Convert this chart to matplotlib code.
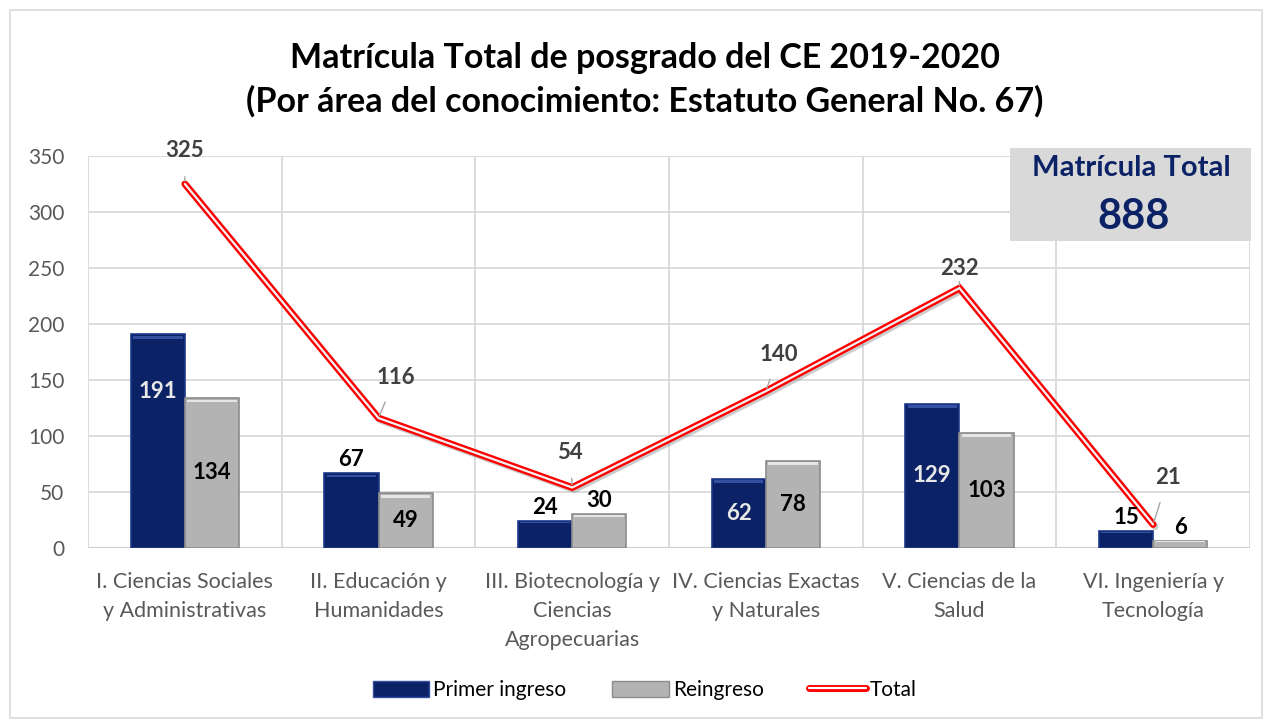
import matplotlib.pyplot as plt
import matplotlib.patheffects as pe
from matplotlib.patches import Rectangle, Patch
from matplotlib.lines import Line2D
import numpy as np

plt.rcParams['font.family'] = ['Lato', 'DejaVu Sans']

categories = ["I. Ciencias Sociales\ny Administrativas", "II. Educación y\nHumanidades",
              "III. Biotecnología y\nCiencias\nAgropecuarias", "IV. Ciencias Exactas\ny Naturales",
              "V. Ciencias de la\nSalud", "VI. Ingeniería y\nTecnología"]
primer_ingreso = [191, 67, 24, 62, 129, 15]
reingreso = [134, 49, 30, 78, 103, 6]
total = [325, 116, 54, 140, 232, 21]
matricula_total = 888

# label placement: 'c' = centre of bar, 'o' = above bar, number = value position
primer_pos = [140, 'o', 'o', 'c', 'c', 'o']
reingreso_pos = ['c', 'c', 'o', 'c', 'c', 'o']

navy = '#0c2266'
gray = '#b3b3b3'
txt = '#595959'

fig = plt.figure(figsize=(12.67, 7.22), dpi=100)
ax = fig.add_axes([0.0695, 0.241, 0.917, 0.543])

x = np.arange(len(categories))
w = 0.28

b1 = ax.bar(x - w / 2, primer_ingreso, w, color=navy, edgecolor='#1b3a8a', linewidth=1.2, zorder=3)
b2 = ax.bar(x + w / 2, reingreso, w, color=gray, edgecolor='#8c8c8c', linewidth=1.2, zorder=3)

# bevel highlights
for bars, hl in ((b1, '#3550a0'), (b2, '#e6e6e6')):
    for r in bars:
        h = r.get_height()
        ax.add_patch(Rectangle((r.get_x() + 0.012, h - min(h * 0.08, 4)), r.get_width() - 0.024,
                               min(h * 0.05, 2.5), color=hl, zorder=4, lw=0))

ax.plot(x, total, color='red', lw=5, solid_capstyle='round', solid_joinstyle='miter', zorder=5,
        path_effects=[pe.SimpleLineShadow(offset=(1.5, -1.5), shadow_color='gray', alpha=0.4), pe.Normal()])
ax.plot(x, total, color='#f2f2f2', lw=1.6, solid_capstyle='round', solid_joinstyle='miter', zorder=6)

def put_label(rect, val, pos, color):
    h = rect.get_height()
    cx = rect.get_x() + rect.get_width() / 2
    if pos == 'o':
        ax.text(cx, h + 3, str(val), ha='center', va='bottom', fontsize=16, fontweight='bold', color='black', zorder=7)
    elif pos == 'c':
        ax.text(cx, h / 2, str(val), ha='center', va='center', fontsize=16, fontweight='bold', color=color, zorder=7)
    else:
        ax.text(cx, pos, str(val), ha='center', va='center', fontsize=16, fontweight='bold', color=color, zorder=7)

for r, v, p in zip(b1, primer_ingreso, primer_pos):
    put_label(r, v, p, '#e8e8e8')
for r, v, p in zip(b2, reingreso, reingreso_pos):
    put_label(r, v, p, 'black')

# total labels with leader lines (offsets in pixels)
offsets = [(0, 33), (17, 41), (-2, 35), (13, 37), (0, 20), (15, 47)]
for xi, v, off in zip(x, total, offsets):
    ax.annotate(str(v), (xi, v), xytext=off, textcoords='offset pixels', ha='center', va='center',
                fontsize=16, fontweight='bold', color='#404040', zorder=8,
                arrowprops=dict(arrowstyle='-', color='#a6a6a6', lw=1, shrinkA=9, shrinkB=2))

ax.set_ylim(0, 350)
ax.set_xlim(-0.5, len(categories) - 0.5)
ax.set_yticks(range(0, 351, 50))
ax.set_xticks(x)
ax.set_xticklabels(categories, fontsize=15.5, color=txt, linespacing=1.58)
ax.tick_params(axis='y', labelsize=15, labelcolor=txt, length=0, pad=17)
ax.tick_params(axis='x', length=0, pad=17)
ax.set_xticks(np.arange(-0.5, len(categories), 1), minor=True)
ax.grid(axis='y', color='#d9d9d9', lw=1.3, zorder=0)
ax.grid(axis='x', which='minor', color='#d9d9d9', lw=1.3, zorder=0)
ax.tick_params(axis='x', which='minor', length=0)
for s in ax.spines.values():
    s.set_visible(False)
ax.axhline(0, color='#d0d0d0', lw=1.5, zorder=2)

fig.text(0.509, 0.92, "Matrícula Total de posgrado del CE 2019-2020", ha='center', va='center',
         fontsize=24.5, fontweight='bold', color='black')
fig.text(0.509, 0.86, "(Por área del conocimiento: Estatuto General No. 67)", ha='center', va='center',
         fontsize=24.5, fontweight='bold', color='black')

# total box
fig.patches.append(Rectangle((1010 / 1267, 1 - 241 / 722), 241 / 1267, 93 / 722, transform=fig.transFigure,
                             facecolor='#d9d9d9', edgecolor='none', zorder=10))
fig.text(1131 / 1267, 1 - 168 / 722, "Matrícula Total", ha='center', va='center', fontsize=21,
         fontweight='bold', color='#0c2266', zorder=11)
fig.text(1134 / 1267, 1 - 217 / 722, str(matricula_total), ha='center', va='center', fontsize=30,
         fontweight='bold', color='#0c2266', zorder=11)

# border
fig.patches.append(Rectangle((10 / 1267, 4 / 722), 1252 / 1267, 708 / 722, transform=fig.transFigure,
                             facecolor='none', edgecolor='#d9d9d9', lw=1.2))

handles = [Patch(facecolor=navy, edgecolor='#3550a0', label='Primer ingreso'),
           Patch(facecolor=gray, edgecolor='#8c8c8c', label='Reingreso'),
           Line2D([], [], color='red', lw=5, solid_capstyle='round',
                  path_effects=[pe.Stroke(linewidth=5, foreground='red'), pe.Stroke(linewidth=1.6, foreground='white')],
                  label='Total')]
fig.legend(handles=handles, loc='center', bbox_to_anchor=(0.509, 1 - 690 / 722), ncol=3, frameon=False,
           fontsize=15, handlelength=2.7, handleheight=0.8, handletextpad=0.2, columnspacing=2.2)

fig.savefig('out.png', dpi=100)
